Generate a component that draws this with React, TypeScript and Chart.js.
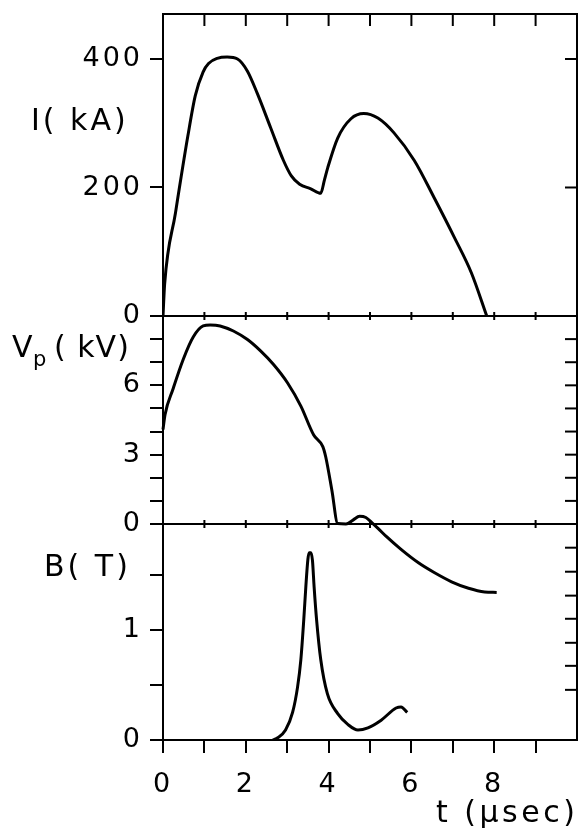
import { useEffect, useRef } from 'react';
import { Chart, registerables } from 'chart.js';

Chart.register(...registerables);

// ---- data ----
const tCurrent = [0, 0.04, 0.3, 0.6, 0.78, 0.97, 1.1, 1.31, 1.55, 1.8, 2.04, 2.28, 2.6, 2.91, 3.1, 3.3, 3.57, 3.81, 3.9, 3.98, 4.22, 4.54, 4.85, 5.19, 5.58, 6.07, 6.55, 7.04, 7.45, 7.82];
const current = [0, 50, 160, 280, 343, 380, 393, 401, 403, 400, 381, 346, 293, 242, 218, 205, 198, 191, 212, 231, 277, 307, 315, 308, 285, 242, 184, 122, 67, 0];

const tVoltage = [0, 0.05, 0.24, 0.49, 0.73, 0.97, 1.14, 1.38, 1.7, 2.04, 2.35, 2.67, 3.01, 3.33, 3.64, 3.86, 3.93, 4.08, 4.22, 4.42, 4.59, 4.75, 4.9, 5.05, 5.2, 5.4, 5.75, 6.17, 6.55, 6.97, 7.38, 7.77, 8.06];
const voltage = [4.09, 4.74, 5.83, 7.13, 8.09, 8.57, 8.61, 8.57, 8.35, 7.98, 7.5, 6.9, 6.1, 5.1, 3.85, 3.35, 2.91, 1.45, 0.02, 0, 0.17, 0.33, 0.28, 0.05, -0.2, -0.55, -1.1, -1.68, -2.1, -2.5, -2.78, -2.94, -2.96];

const tField = [2.65, 2.77, 2.96, 3.13, 3.25, 3.33, 3.4, 3.45, 3.5, 3.53, 3.57, 3.61, 3.65, 3.71, 3.81, 3.97, 4.22, 4.47, 4.71, 4.95, 5.27, 5.63, 5.75, 5.9];
const field = [0, 0.02, 0.09, 0.25, 0.48, 0.73, 1.09, 1.39, 1.64, 1.7, 1.7, 1.63, 1.39, 1.09, 0.73, 0.42, 0.24, 0.14, 0.09, 0.11, 0.18, 0.29, 0.3, 0.25];

// tick labels
const xLabels = [0, 2, 4, 6, 8];
const iLabels = [0, 200, 400];
const vLabels = [0, 3, 6];
const bLabels = [0, 1];
const rightTicksB = [1.745, 1.527, 1.31, 1.1, 0.882, 0.673, 0.455];

const FONT = '"DejaVu Sans", sans-serif';

const pts = (xs: number[], ys: number[]) => xs.map((x, i) => ({ x, y: ys[i] }));

const noPad = (s: any) => {
  s.paddingTop = 0;
  s.paddingBottom = 0;
  s.paddingLeft = 0;
  s.paddingRight = 0;
};

const framePlugin = {
  id: 'frame',
  beforeDraw(chart: any) {
    (chart.ctx as any).letterSpacing = '3px';
  },
  afterDraw(chart: any) {
    const { ctx, chartArea: a, scales } = chart;
    const x = scales.x, yI = scales.yI, yV = scales.yV, yB = scales.yB;
    const line = (x1: number, y1: number, x2: number, y2: number) => {
      ctx.beginPath();
      ctx.moveTo(x1, y1);
      ctx.lineTo(x2, y2);
      ctx.stroke();
    };
    ctx.save();
    ctx.strokeStyle = '#000';
    ctx.lineWidth = 2;
    ctx.strokeRect(a.left, a.top, a.right - a.left, a.bottom - a.top);
    const bounds = [yI.bottom, yV.bottom];
    bounds.forEach((yy: number) => line(a.left, yy, a.right, yy));
    x.ticks.forEach((t: any) => {
      const px = x.getPixelForValue(t.value);
      if (px < a.left + 2 || px > a.right - 2) return;
      line(px, a.top, px, a.top + 12);
      bounds.forEach((yy: number) => line(px, yy - 4, px, yy + 4));
    });
    yI.ticks.forEach((t: any) => {
      if (t.value <= 0) return;
      const py = yI.getPixelForValue(t.value);
      line(a.right - 12, py, a.right, py);
    });
    yV.ticks.forEach((t: any) => {
      if (t.value <= 0 || t.value >= 9) return;
      const py = yV.getPixelForValue(t.value);
      line(a.right - 12, py, a.right, py);
    });
    rightTicksB.forEach((v) => {
      const py = yB.getPixelForValue(v);
      line(a.right - 12, py, a.right, py);
    });

    // axis titles
    ctx.fillStyle = '#000';
    ctx.textBaseline = 'middle';
    ctx.textAlign = 'left';
    ctx.font = `30px ${FONT}`;
    (ctx as any).letterSpacing = '3px';
    ctx.fillText('I( kA)', 31, 122);
    ctx.fillText('B( T)', 44, 568);
    (ctx as any).letterSpacing = '3.5px';
    ctx.fillText('t (\u00b5sec)', 436, 814);
    (ctx as any).letterSpacing = '1px';
    ctx.fillText('V', 12, 349);
    ctx.font = `21px ${FONT}`;
    ctx.fillText('p', 33, 361);
    ctx.font = `30px ${FONT}`;
    ctx.fillText('( kV)', 54, 349);
    ctx.restore();
  },
};

export default function App() {
  const ref = useRef<HTMLCanvasElement | null>(null);
  useEffect(() => {
    if (!ref.current) return;
    const tickFont = { family: FONT, size: 27 };
    const leftGrid = { display: true, drawOnChartArea: false, drawTicks: true, tickLength: 13, color: '#000', lineWidth: 2 };
    const chart = new Chart(ref.current, {
      type: 'line',
      data: {
        datasets: [
          { data: pts(tCurrent, current), yAxisID: 'yI', borderColor: '#000', borderWidth: 3, pointRadius: 0, cubicInterpolationMode: 'monotone', fill: false },
          { data: pts(tVoltage, voltage), yAxisID: 'yV', borderColor: '#000', borderWidth: 3, pointRadius: 0, cubicInterpolationMode: 'monotone', fill: false, clip: false },
          { data: pts(tField, field), yAxisID: 'yB', borderColor: '#000', borderWidth: 3, pointRadius: 0, cubicInterpolationMode: 'monotone', fill: false },
        ],
      },
      options: {
        responsive: false,
        animation: false,
        devicePixelRatio: 1,
        layout: { padding: { top: 14, right: 5, left: 0, bottom: 0 } },
        plugins: { legend: { display: false }, tooltip: { enabled: false }, title: { display: false } },
        scales: {
          x: {
            type: 'linear',
            min: 0,
            max: 10,
            grid: { ...leftGrid, color: (c: any) => (c.tick && c.tick.value >= 10 ? 'rgba(0,0,0,0)' : '#000') },
            border: { display: false },
            ticks: {
              stepSize: 1,
              autoSkip: false,
              maxRotation: 0,
              padding: 16,
              color: '#000',
              font: tickFont,
              callback: (v: any) => (xLabels.includes(Number(v)) ? String(v) : ''),
            },
            afterFit: (s: any) => { s.height = 93; noPad(s); },
          },
          yB: {
            type: 'linear',
            position: 'left',
            stack: 'panels',
            stackWeight: 216,
            min: 0,
            max: 1.96,
            grid: { ...leftGrid },
            border: { display: false },
            ticks: {
              stepSize: 0.5,
              includeBounds: false,
              autoSkip: false,
              padding: 7,
              color: '#000',
              font: tickFont,
              callback: (v: any) => (bLabels.includes(Number(v)) ? String(v) : ''),
            },
            afterFit: (s: any) => { s.width = 163; noPad(s); },
          },
          yV: {
            type: 'linear',
            position: 'left',
            stack: 'panels',
            stackWeight: 208,
            min: 0,
            max: 9,
            grid: { ...leftGrid },
            border: { display: false },
            ticks: {
              stepSize: 1,
              includeBounds: false,
              autoSkip: false,
              padding: 7,
              color: '#000',
              font: tickFont,
              callback: (v: any) => (vLabels.includes(Number(v)) ? String(v) : ''),
            },
            afterFit: (s: any) => { s.width = 163; noPad(s); },
          },
          yI: {
            type: 'linear',
            position: 'left',
            stack: 'panels',
            stackWeight: 302,
            min: 0,
            max: 470,
            grid: { ...leftGrid },
            border: { display: false },
            ticks: {
              stepSize: 200,
              includeBounds: false,
              autoSkip: false,
              padding: 7,
              color: '#000',
              font: tickFont,
              callback: (v: any) => (iLabels.includes(Number(v)) ? String(v) : ''),
            },
            afterFit: (s: any) => { s.width = 163; noPad(s); },
          },
        },
      },
      plugins: [framePlugin],
    } as any);
    return () => chart.destroy();
  }, []);
  return (
    <div style={{ position: 'absolute', left: 0, top: 0, width: 582, height: 833, background: '#fff' }}>
      <canvas ref={ref} width={582} height={833} style={{ display: 'block' }} />
    </div>
  );
}
